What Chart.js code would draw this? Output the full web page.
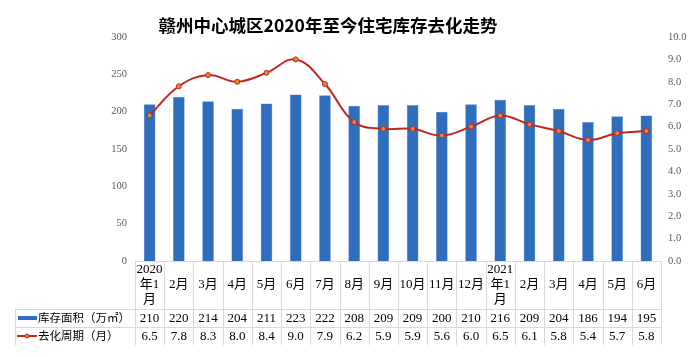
<!DOCTYPE html>
<html><head><meta charset="utf-8">
<script src="https://cdn.jsdelivr.net/npm/chart.js@4/dist/chart.umd.min.js"></script>
<style>html,body{margin:0;padding:0;background:#fff;}#wrap{width:692px;height:357px;position:relative;}</style>
</head><body><div id="wrap"><canvas id="c" width="692" height="357"></canvas></div>
<script>
const title = '赣州中心城区2020年至今住宅库存去化走势';
const categories = [['2020','年1','月'],'2月','3月','4月','5月','6月','7月','8月','9月','10月','11月','12月',['2021','年1','月'],'2月','3月','4月','5月','6月'];
const inventoryName = '库存面积（万㎡）';
const inventory = [210,220,214,204,211,223,222,208,209,209,200,210,216,209,204,186,194,195];
const cycleName = '去化周期（月）';
const cycle = [6.5,7.8,8.3,8.0,8.4,9.0,7.9,6.2,5.9,5.9,5.6,6.0,6.5,6.1,5.8,5.4,5.7,5.8];
const leftTicks = [0,50,100,150,200,250,300];
const rightTicks = [0,1,2,3,4,5,6,7,8,9,10];

const BLUE = '#2F6EBD';
const RED = '#C0281E';
const SERIF = '"Liberation Serif","Noto Sans CJK SC",serif';

const titlePlugin = {
  id: 'titleText',
  afterDraw(chart) {
    const ctx = chart.ctx;
    ctx.save();
    ctx.fillStyle = '#000';
    ctx.font = 'bold 17.5px "Noto Sans CJK SC", sans-serif';
    ctx.textAlign = 'center';
    ctx.textBaseline = 'middle';
    ctx.fillText(title, 328, 25);
    ctx.restore();
  }
};

const tablePlugin = {
  id: 'dataTable',
  afterDraw(chart) {
    const ctx = chart.ctx;
    const x = chart.scales.x;
    const area = chart.chartArea;
    const n = categories.length;
    const step = (area.right - area.left) / n;
    const top = area.bottom, r1 = top + 48, r2 = r1 + 18, r3 = r2 + 18;
    const legLeft = 15;
    ctx.save();
    ctx.strokeStyle = '#D9D9D9';
    ctx.lineWidth = 1;
    ctx.beginPath();
    for (let i = 0; i <= n; i++) {
      const px = Math.round(area.left + i * step) + 0.5;
      ctx.moveTo(px, top); ctx.lineTo(px, r3);
    }
    ctx.moveTo(area.left, top + 0.5); ctx.lineTo(area.right, top + 0.5);
    ctx.moveTo(legLeft + 0.5, r1); ctx.lineTo(legLeft + 0.5, r3);
    [r1, r2].forEach(y => { ctx.moveTo(legLeft, Math.round(y) + 0.5); ctx.lineTo(area.right, Math.round(y) + 0.5); });
    ctx.stroke();

    ctx.fillStyle = '#000';
    ctx.textAlign = 'center';
    ctx.textBaseline = 'middle';
    ctx.font = '13px ' + SERIF;
    categories.forEach((c, i) => {
      const cx = x.getPixelForValue(i);
      if (Array.isArray(c)) {
        c.forEach((line, k) => ctx.fillText(line, cx, top + 9 + k * 15));
      } else {
        ctx.fillText(c, cx, top + 24);
      }
      ctx.fillText(String(inventory[i]), cx, (r1 + r2) / 2 + 1);
      ctx.fillText(cycle[i].toFixed(1), cx, (r2 + r3) / 2 + 1);
    });
    ctx.fillStyle = BLUE;
    ctx.fillRect(18, (r1 + r2) / 2 - 2, 19, 4);
    ctx.strokeStyle = RED; ctx.lineWidth = 2;
    ctx.beginPath(); ctx.moveTo(17, (r2 + r3) / 2); ctx.lineTo(37, (r2 + r3) / 2); ctx.stroke();
    ctx.beginPath(); ctx.arc(27, (r2 + r3) / 2, 2, 0, Math.PI * 2);
    ctx.fillStyle = '#E8833A'; ctx.fill(); ctx.lineWidth = 1; ctx.stroke();
    ctx.fillStyle = '#000';
    ctx.textAlign = 'left';
    ctx.font = '11.5px ' + SERIF;
    ctx.fillText(inventoryName, 38, (r1 + r2) / 2 + 1);
    ctx.fillText(cycleName, 38, (r2 + r3) / 2 + 1);
    ctx.restore();
  }
};

new Chart(document.getElementById('c'), {
  data: {
    labels: categories.map(c => Array.isArray(c) ? c.join('') : c),
    datasets: [
      {
        type: 'line', label: cycleName, data: cycle, yAxisID: 'y1',
        borderColor: RED, borderWidth: 2, tension: 0.4,
        pointRadius: 2.5, pointBackgroundColor: '#E8833A', pointBorderColor: RED, pointBorderWidth: 1,
        order: 0
      },
      {
        type: 'bar', label: inventoryName, data: inventory, yAxisID: 'y',
        backgroundColor: BLUE, borderColor: '#5B8FD0', borderWidth: 0.5,
        barPercentage: 0.4, categoryPercentage: 1.0,
        order: 1
      }
    ]
  },
  options: {
    responsive: false, animation: false,
    layout: { padding: { top: 37, bottom: 96, left: 0, right: 0 } },
    plugins: { legend: { display: false }, tooltip: { enabled: false }, title: { display: false } },
    scales: {
      x: { display: false, offset: true },
      y: {
        position: 'left', min: 0, max: 300,
        afterFit(s) { s.width = 135; },
        afterBuildTicks(s) { s.ticks = leftTicks.map(v => ({ value: v })); },
        grid: { display: false, drawTicks: false }, border: { display: false },
        ticks: { color: '#595959', font: { family: SERIF, size: 10.5 }, padding: 8 }
      },
      y1: {
        position: 'right', min: 0, max: 10,
        afterFit(s) { s.width = 31; },
        afterBuildTicks(s) { s.ticks = rightTicks.map(v => ({ value: v })); },
        grid: { display: false, drawTicks: false }, border: { display: false },
        ticks: { color: '#595959', font: { family: SERIF, size: 10.5 }, padding: 7, callback: v => Number(v).toFixed(1) }
      }
    }
  },
  plugins: [titlePlugin, tablePlugin]
});
</script></body></html>
